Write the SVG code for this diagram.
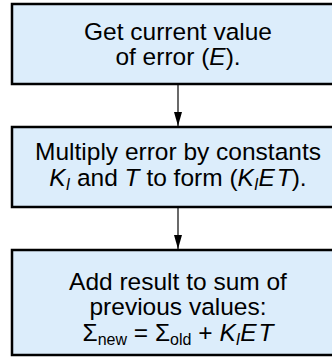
<svg xmlns="http://www.w3.org/2000/svg" width="332" height="358" viewBox="0 0 332 358">
<style>
.box{fill:#dcedfb;stroke:#000;stroke-width:2.5}
.t{font-family:"Liberation Sans",Arial,sans-serif;font-size:24.5px;fill:#000;text-anchor:middle}
.i{font-style:italic}
.s{font-size:16px}
.c{stroke:#444;stroke-width:1.6;fill:none}
.ah{fill:#000}
</style>
<g id="connectors">
<line class="c" x1="178" y1="85" x2="178" y2="126"/>
<path class="ah" d="M174,112 L182,112 L178,126 Z"/>
<line class="c" x1="178" y1="208" x2="178" y2="249"/>
<path class="ah" d="M174,235 L182,235 L178,249 Z"/>
</g>
<g id="n1">
<rect class="box" x="12" y="4" width="330" height="80"/>
<text class="t" x="178" y="40">Get current value<tspan x="178" y="65">of error (</tspan><tspan class="i">E</tspan>).</text>
</g>
<g id="n2">
<rect class="box" x="12" y="127" width="330" height="80"/>
<text class="t" x="178" y="160">Multiply error by constants<tspan x="178" y="186" class="i">K</tspan><tspan class="i s" dy="4">I</tspan><tspan dy="-4"> and </tspan><tspan class="i">T</tspan> to form (<tspan class="i">K</tspan><tspan class="i s" dy="4">I</tspan><tspan class="i" dy="-4">E</tspan><tspan class="i" dx="2">T</tspan>).</text>
</g>
<g id="n3">
<rect class="box" x="12" y="250" width="330" height="105"/>
<text class="t" x="178" y="290">Add result to sum of<tspan x="178" y="315">previous values:</tspan><tspan x="178" y="341">Σ</tspan><tspan class="s" dy="4">new</tspan><tspan dy="-4"> = Σ</tspan><tspan class="s" dy="4">old</tspan><tspan dy="-4"> + </tspan><tspan class="i">K</tspan><tspan class="i s" dy="4">I</tspan><tspan class="i" dy="-4">E</tspan><tspan class="i" dx="2">T</tspan></text>
</g>
</svg>
